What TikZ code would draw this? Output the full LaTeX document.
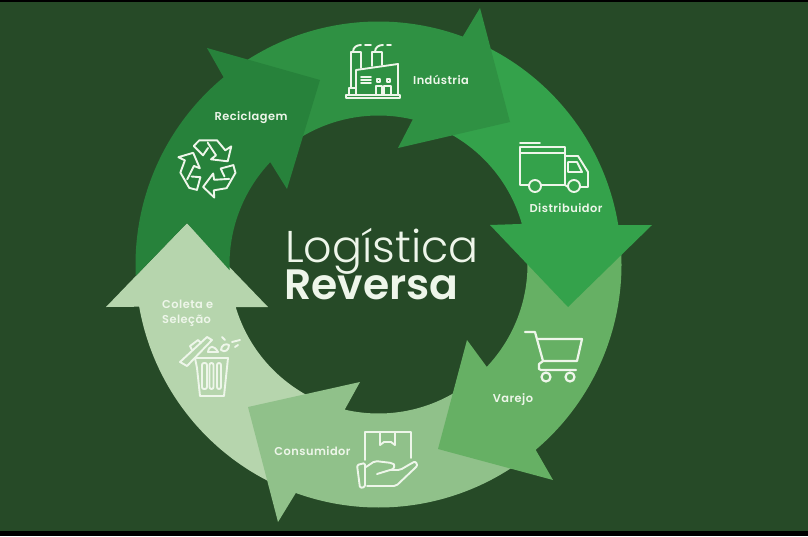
\documentclass[tikz,border=0pt]{standalone}
\usepackage{fontspec}
\setmainfont{Poppins}
\newfontfamily\thinfont{Poppins Light}
\newfontfamily\heavyfont{Poppins SemiBold}
\newfontfamily\labelfont[LetterSpace=4]{Poppins SemiBold}
\usetikzlibrary{calc}
\definecolor{bgdark}{HTML}{264A27}
\definecolor{recic}{HTML}{27823B}
\definecolor{indus}{HTML}{2F9143}
\definecolor{distr}{HTML}{34A24B}
\definecolor{varej}{HTML}{66B064}
\definecolor{consu}{HTML}{90C18A}
\definecolor{colet}{HTML}{B6D5AD}
\definecolor{ink}{HTML}{EEF6EA}
\tikzset{
  steplabel/.style={text=ink, font=\labelfont\fontsize{11.4}{15}\selectfont, inner sep=0pt, anchor=base},
  icon/.style={draw=ink, line width=1.9, line join=round, line cap=round},
}
% colour, outer start, outer end, head points, inner start, inner end, tail points
\newcommand{\arrowband}[7]{
  \fill[#1] ($(c)+(#2:243)$) arc[start angle=#2, end angle=#3, radius=243]
    #4 -- ($(c)+(#5:149)$) arc[start angle=#5, end angle=#6, radius=149] #7 -- cycle;
}
\begin{document}
\begin{tikzpicture}[x=1pt, yscale=-1, y=1pt]
    \useasboundingbox (0, 0) rectangle (808, 536);
    % backdrop
    \fill [black] (0, 0) rectangle (808, 536);
    \fill [bgdark] (0, 2) rectangle (808, 531);
    \coordinate (c) at (378.5, 264.5);
    % ring of arrows
    \arrowband{colet}{114}{170}{-- (106, 307) -- (187, 223) -- (268, 307)}{163.4}{114}{}
    \arrowband{consu}{52}{109.9}{-- (278, 522) -- (248, 407) -- (360, 382)}{103.1}{55}{}
    \arrowband{varej}{-5}{49.7}{-- (553, 480) -- (438, 449) -- (467, 340)}{43.4}{-5}{}
    \arrowband{distr}{293}{350.7}{-- (652, 225) -- (568, 307) -- (490, 225)}{344.2}{295}{}
    \arrowband{indus}{235}{290.3}{-- (480, 8) -- (510, 122) -- (398, 148)}{283.3}{235}{}
    \arrowband{recic}{177.3}{230.4}{-- (207, 48) -- (320, 80) -- (287, 189)}{223.4}{177.8}{-- (187, 223)}
    % title
    \node [anchor=base west, inner sep=0pt, text=ink, font=\thinfont\fontsize{44.5}{46}\selectfont] (title) at (285, 262) {Logística};
    \node [anchor=base west, inner sep=0pt, text=ink, font=\heavyfont\fontsize{42.5}{46}\selectfont] (subtitle) at (284, 299) {Reversa};
    % step labels
    \node [steplabel] (lblindustria) at (441, 84) {Indústria};
    \node [steplabel] (lblreciclagem) at (251, 120) {Reciclagem};
    \node [steplabel] (lbldistribuidor) at (566, 212) {Distribuidor};
    \node [steplabel] (lblvarejo) at (513, 402) {Varejo};
    \node [steplabel] (lblconsumidor) at (312.5, 455) {Consumidor};
    \node [steplabel, anchor=base west] (lblcoleta) at (162, 308) {Coleta e};
    \node [steplabel, anchor=base west] (lblselecao) at (162, 323) {Seleção};
    % factory
    \draw [icon] (346, 95) rectangle (400, 98);
    \draw [icon] (349, 95) -- (349, 88) -- (356, 88) -- (356, 95);
    \draw [icon] (351, 88) -- (351, 52) -- (361, 52) -- (361, 68);
    \draw [icon] (372, 66) -- (372, 52) -- (382, 52) -- (382, 65);
    \draw [icon] (356, 95) -- (356, 70) -- (398, 64) -- (398, 95);
    \draw [icon] (353, 52) .. controls (353, 47) and (357, 45) .. (361, 45);
    \draw [icon] (375, 52) .. controls (375, 47) and (379, 45) .. (383, 45);
    \draw [icon] (365, 45) -- (371, 45) (387, 45) -- (391, 45);
    \draw [icon] (361, 77) -- (371, 77) (361, 80) -- (371, 80) (361, 83) -- (371, 83);
    \draw [icon] (377, 79) rectangle (380, 82) (387, 79) rectangle (390, 82);
    \draw [icon] (376, 95) -- (376, 86) -- (382, 86) -- (382, 95) (384, 95) -- (384, 86) -- (391, 86) -- (391, 95);
    % truck
    \draw [icon] (520, 143) -- (540, 143);
    \draw [icon] (529, 185) -- (520, 185) -- (520, 147) -- (565, 147) -- (565, 185) -- (541, 185);
    \draw [icon] (520, 153) -- (565, 153);
    \draw [icon] (565, 156) -- (578, 156) -- (588, 172) -- (588, 187) -- (580, 187) (568, 187) -- (565, 185);
    \draw [icon] (568, 162) -- (577, 162) -- (582, 172) -- (568, 172) -- cycle;
    \draw [icon] (535, 186) circle (6) (574, 186) circle (6);
    % recycling sign
    \foreach \turn in {0, 120, 240} {
      \begin{scope}[shift={(208, 167)}, rotate=\turn]
        \draw [icon] (-14.3, -21) -- (-8.7, -26.7) -- (9, -26.7) -- (17.3, -16.7) -- (23.3, -20.7) -- (19.7, -5.7) -- (3, -7.7) -- (8, -11.7) -- (-0.3, -24.3);
        \draw [icon] (-14.3, -21) -- (-5, -11.7) -- (0, -19);
      \end{scope}
    }
    % bin
    \draw [icon] (197, 368) -- (195, 358) -- (228, 358) -- (224, 396) -- (200, 396) -- (197, 368);
    \draw [icon, rounded corners=2] (202, 363) rectangle (207, 389);
    \draw [icon, rounded corners=2] (209.5, 363) rectangle (213.5, 389);
    \draw [icon, rounded corners=2] (217, 363) rectangle (221, 389);
    \draw [icon] (180, 362) -- (207, 337) -- (212, 340) -- (187, 366) -- cycle;
    \draw [icon] (192, 350) -- (190, 346) -- (198, 340) -- (201, 343);
    \draw [icon] (208, 352) .. controls (209, 345) and (214, 345) .. (218, 352) -- cycle;
    \draw [icon] (221, 350) .. controls (221, 345) and (226, 343) .. (229, 345) .. controls (229, 350) and (225, 353) .. (221, 350) -- cycle;
    \draw [icon] (222, 337) -- (225, 340) (232, 342) -- (240, 340) (235, 347) -- (238, 345);
    % box on hand
    \draw [icon] (365, 460) -- (365, 432) -- (411, 432) -- (411, 458);
    \draw [icon] (380, 432) -- (380, 445) -- (384, 442) -- (391, 442) -- (395, 445) -- (395, 432);
    \draw [icon, rounded corners=1.5] (357, 465) -- (365, 463) -- (365, 487) -- (360, 488) -- cycle;
    \draw [icon, rounded corners=2] (366, 467) -- (375, 461) -- (392, 463) .. controls (395, 465) and (394, 469) .. (390, 470) -- (377, 474);
    \draw [icon, rounded corners=2] (390, 470) -- (400, 470) -- (412, 463) .. controls (416, 461) and (418, 465) .. (415, 468) -- (396, 486) -- (367, 486);
    % cart
    \draw [icon, line width=2.2] (525, 332) -- (535, 332) -- (543, 361) -- (539, 364) -- (539, 369) -- (541, 370) -- (576, 370);
    \draw [icon, line width=2.2] (537, 339) -- (582, 339) -- (577, 361) -- (543, 361);
    \draw [icon, line width=2.2] (546, 377) circle (4.5) (570, 377) circle (4.5);
\end{tikzpicture}
\end{document}
